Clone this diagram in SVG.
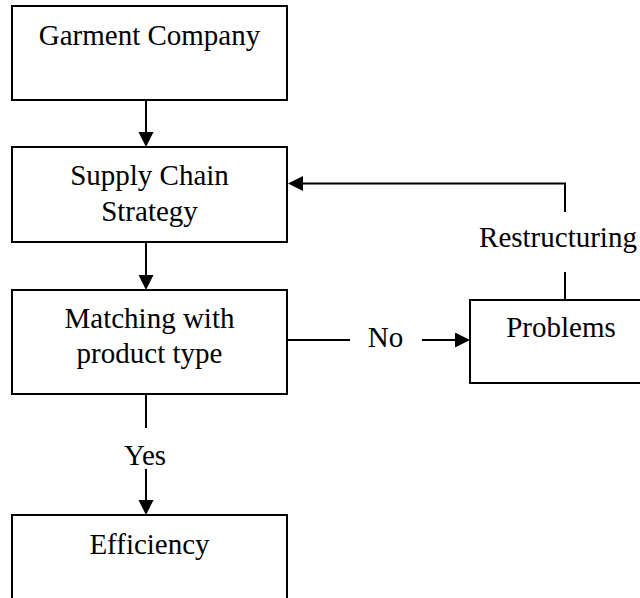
<svg xmlns="http://www.w3.org/2000/svg" width="640" height="598" viewBox="0 0 640 598">
<defs>
<style>
.box{fill:#fff;stroke:#000;stroke-width:2}
.ln{fill:none;stroke:#000;stroke-width:2}
.t{font-family:"Liberation Serif","Times New Roman",serif;font-size:29px;fill:#000;text-anchor:middle}
</style>
<marker id="ah" markerUnits="userSpaceOnUse" markerWidth="16" markerHeight="16" refX="0" refY="7.5" orient="auto">
<path d="M0,0 L15,7.5 L0,15 z" fill="#000"/>
</marker>
</defs>
<rect width="640" height="598" fill="#fff"/>
<g id="connectors">
<line class="ln" x1="146" y1="100" x2="146" y2="132" marker-end="url(#ah)"/>
<line class="ln" x1="146" y1="242" x2="146" y2="275" marker-end="url(#ah)"/>
<line class="ln" x1="146" y1="394" x2="146" y2="428"/>
<line class="ln" x1="146" y1="469" x2="146" y2="500" marker-end="url(#ah)"/>
<line class="ln" x1="287" y1="340" x2="350" y2="340"/>
<line class="ln" x1="422" y1="340" x2="455" y2="340" marker-end="url(#ah)"/>
<line class="ln" x1="565" y1="300" x2="565" y2="272"/>
<path class="ln" d="M565,212 V183.5 H303" marker-end="url(#ah)"/>
<text class="t" x="145" y="465">Yes</text>
<text class="t" x="385.5" y="347">No</text>
<text class="t" x="558" y="247">Restructuring</text>
</g>
<g id="garment">
<rect class="box" x="12" y="6" width="275" height="94"/>
<text class="t" x="149.5" y="45">Garment Company</text>
</g>
<g id="strategy">
<rect class="box" x="12" y="147" width="275" height="95"/>
<text class="t" x="149.5" y="185">Supply Chain</text>
<text class="t" x="149.5" y="221">Strategy</text>
</g>
<g id="matching">
<rect class="box" x="12" y="290" width="275" height="104"/>
<text class="t" x="149.5" y="328">Matching with</text>
<text class="t" x="149.5" y="363">product type</text>
</g>
<g id="efficiency">
<rect class="box" x="12" y="515" width="275" height="100"/>
<text class="t" x="149.5" y="554">Efficiency</text>
</g>
<g id="problems">
<rect class="box" x="470" y="300" width="190" height="83"/>
<text class="t" x="561" y="337">Problems</text>
</g>
</svg>
